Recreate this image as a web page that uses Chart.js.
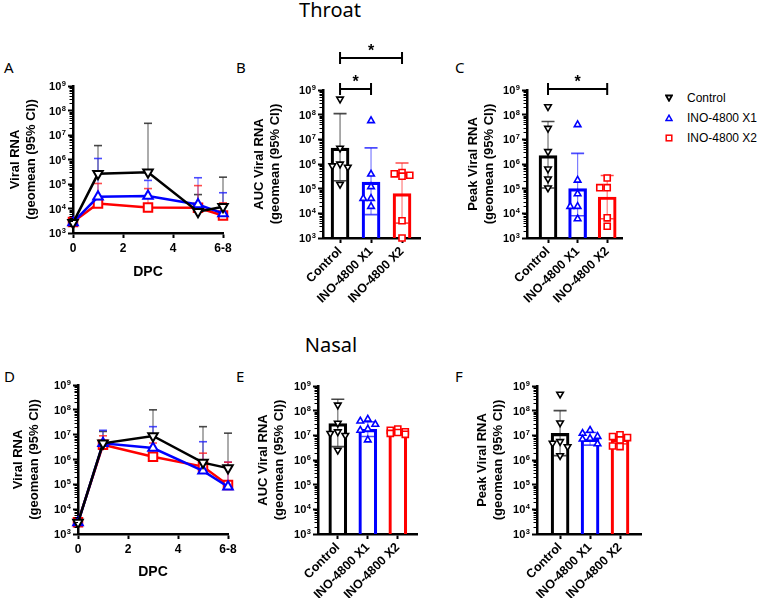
<!DOCTYPE html>
<html>
<head>
<meta charset="utf-8">
<script src="https://cdn.jsdelivr.net/npm/chart.js@4.4.1/dist/chart.umd.min.js"></script>
<style>
body { margin: 0; width: 758px; height: 598px; background: #fff; position: relative; overflow: hidden; font-family: "Noto Sans", sans-serif; color: #000; }
canvas, .t { position: absolute; }
.head { font-size: 20px; line-height: 24px; width: 120px; text-align: center; }
.letter { font-size: 15px; line-height: 18px; }
.leg { font-family: "Liberation Sans", Arial, sans-serif; font-size: 12px; line-height: 14px; }
.mk { position: absolute; }
</style>
</head>
<body>
<div class="t head" style="left:270px;top:-2px">Throat</div>
<div class="t head" style="left:271px;top:333px">Nasal</div>
<div class="t letter" style="left:4px;top:58px">A</div>
<div class="t letter" style="left:236px;top:58px">B</div>
<div class="t letter" style="left:455px;top:58px">C</div>
<div class="t letter" style="left:4px;top:367px">D</div>
<div class="t letter" style="left:236px;top:367px">E</div>
<div class="t letter" style="left:455px;top:367px">F</div>

<svg class="mk" style="left:665px;top:94px" width="8" height="8"><polygon points="1,1.5 7,1.5 4,6.8" fill="#fff" stroke="#000" stroke-width="1.8"/></svg>
<div class="t leg" style="left:687px;top:91px">Control</div>
<svg class="mk" style="left:665px;top:114px" width="8" height="8"><polygon points="1,6.5 7,6.5 4,1.2" fill="#fff" stroke="#0000ff" stroke-width="1.5"/></svg>
<div class="t leg" style="left:687px;top:111px">INO-4800 X1</div>
<svg class="mk" style="left:665px;top:134px" width="8" height="8"><rect x="1.2" y="1.2" width="5.6" height="5.6" fill="#fff" stroke="#ff0000" stroke-width="1.5"/></svg>
<div class="t leg" style="left:687px;top:131px">INO-4800 X2</div>

<script>
// axis ticks
const EXPONENTS = [3, 4, 5, 6, 7, 8, 9];
const DPC = [0, 1, 3, 5, 6];
const DPC_TICKS = [0, 2, 4, 6];
const DPC_LABELS = ['0', '2', '4', '6-8'];
const GROUPS = ['Control', 'INO-4800 X1', 'INO-4800 X2'];

// A - throat kinetics (geomean, upper 95% CI)
const throatControl = [2.6e3, 2.6e5, 3.0e5, 7.4e3, 1.17e4];
const throatControlUpper = [null, 3.7e6, 3.0e7, 3.7e4, 1.9e5];
const throatX1 = [2.7e3, 3.0e4, 3.2e4, 1.45e4, 6.3e3];
const throatX1Upper = [null, 1.1e6, 1.4e5, 1.8e5, 4.4e4];
const throatX2 = [2.8e3, 1.6e4, 1.1e4, 1.07e4, 5.2e3];
const throatX2Upper = [null, 1.05e5, 6.5e4, 8.6e4, 1.7e4];

// D - nasal kinetics
const nasalControl = [2.9e3, 4.5e6, 8.9e6, 7.5e5, 4.5e5];
const nasalControlUpper = [null, 1.35e7, 1.0e8, 2.1e7, 1.15e7];
const nasalX1 = [2.9e3, 4.5e6, 2.9e6, 3.5e5, 8.0e4];
const nasalX1Upper = [null, 1.5e7, 2.1e7, 5.2e6, 7.8e5];
const nasalX2 = [3.0e3, 3.9e6, 1.3e6, 5.2e5, 9.5e4];
const nasalX2Upper = [null, 9.0e6, 4.6e6, 1.8e6, 7.8e5];

// B - throat AUC
const throatAucMean = [4.4e6, 1.85e5, 6.3e4];
const throatAucLower = [2.1e5, 8.9e3, 4.0e3];
const throatAucUpper = [1.1e8, 4.5e6, 1.1e6];
const throatAucControl = [4.3e8, 4.4e6, 1.0e6, 8.5e5, 7.5e5, 1.5e5];
const throatAucX1 = [5.7e7, 3.9e5, 1.2e5, 4.0e4, 4.0e4, 1.9e4];
const throatAucX2 = [4.5e5, 4.0e5, 3.5e5, 3.2e5, 5.0e3, 1.0e3];

// C - throat peak
const throatPeakMean = [2.2e6, 1.0e5, 4.6e4];
const throatPeakLower = [1.07e5, 8.0e3, 6.0e3];
const throatPeakUpper = [5.3e7, 2.7e6, 3.4e5];
const throatPeakControl = [2.1e8, 2.8e7, 3.2e6, 6.3e5, 2.5e5, 1.07e5];
const throatPeakX1 = [3.9e7, 2.2e5, 6.2e4, 1.9e4, 1.9e4, 6.0e3];
const throatPeakX2 = [2.7e5, 1.1e5, 1.1e5, 6.6e3, 3.0e3];

// E - nasal AUC
const nasalAucMean = [3.0e7, 1.75e7, 1.3e7];
const nasalAucLower = [3.5e6, 9.0e6, 1.05e7];
const nasalAucUpper = [2.9e8, 3.5e7, 1.7e7];
const nasalAucControl = [1.7e8, 3.1e7, 1.4e7, 1.2e7, 1.0e7, 2.5e6];
const nasalAucX1 = [4.5e7, 3.8e7, 2.8e7, 1.8e7, 1.6e7, 6.5e6];
const nasalAucX2 = [1.8e7, 1.6e7, 1.4e7, 1.3e7, 1.2e7, 1.1e7];

// F - nasal peak
const nasalPeakMean = [1.2e7, 7.0e6, 7.0e6];
const nasalPeakLower = [1.5e6, 4.0e6, 4.5e6];
const nasalPeakUpper = [1.0e8, 1.3e7, 1.0e7];
const nasalPeakControl = [4.7e8, 3.2e7, 5.6e6, 4.8e6, 3.5e6, 1.5e6];
const nasalPeakX1 = [1.6e7, 1.2e7, 9.0e6, 7.5e6, 7.0e6, 4.5e6];
const nasalPeakX2 = [1.05e7, 8.9e6, 8.1e6, 6.5e6, 3.7e6, 3.5e6];

const FONT = "'Liberation Sans', Arial, sans-serif";
const COLORS = ['#000000', '#0000ff', '#ff0000'];
const ERR_LINE = ['rgba(70,70,70,0.75)', 'rgba(40,40,255,0.6)', 'rgba(255,40,40,0.6)'];
const ERR_CAP = ['rgba(40,40,40,0.85)', 'rgba(30,30,255,0.8)', 'rgba(255,30,30,0.8)'];
const STYLES = [['triangle', 180], ['triangle', 0], ['rect', 0]];

const extras = {
    id: 'extras',
    beforeDatasetsDraw(chart, args, o) {
        const {ctx, scales: {x, y}} = chart;
        ctx.save();
        (o.bars || []).forEach(b => {
            const px = x.getPixelForValue(b.x);
            const lo = y.getPixelForValue(b.lo);
            const hi = y.getPixelForValue(b.hi);
            ctx.strokeStyle = b.line;
            ctx.lineWidth = 1.2;
            ctx.beginPath(); ctx.moveTo(px, lo); ctx.lineTo(px, hi); ctx.stroke();
            ctx.strokeStyle = b.cap;
            ctx.lineWidth = 1.6;
            ctx.beginPath();
            ctx.moveTo(px - b.capW / 2, hi); ctx.lineTo(px + b.capW / 2, hi);
            if (b.both) { ctx.moveTo(px - b.capW / 2, lo); ctx.lineTo(px + b.capW / 2, lo); }
            ctx.stroke();
        });
        ctx.restore();
    },
    afterDraw(chart, args, o) {
        const {ctx, chartArea: a, scales: {x, y}} = chart;
        ctx.save();
        // minor log ticks
        ctx.strokeStyle = '#000';
        ctx.lineWidth = 1;
        ctx.beginPath();
        for (let e = 3; e < 9; e++) {
            for (let m = 2; m < 10; m++) {
                const py = Math.round(y.getPixelForValue(m * Math.pow(10, e))) + 0.5;
                ctx.moveTo(a.left - 3.5, py); ctx.lineTo(a.left, py);
            }
        }
        ctx.stroke();
        // power-of-ten labels with a raised exponent
        ctx.fillStyle = '#000';
        ctx.textAlign = 'right';
        ctx.textBaseline = 'alphabetic';
        EXPONENTS.forEach(e => {
            const py = y.getPixelForValue(Math.pow(10, e));
            const right = a.left - 7;
            ctx.font = 'bold 7.5px ' + FONT;
            const ew = ctx.measureText(String(e)).width;
            ctx.fillText(String(e), right, py);
            ctx.font = 'bold 11px ' + FONT;
            ctx.fillText('10', right - ew - 0.5, py + 4);
        });
        (o.brackets || []).forEach(b => {
            const x0 = x.getPixelForValue(b.from), x1 = x.getPixelForValue(b.to);
            const py = a.top - b.rise;
            ctx.strokeStyle = '#000';
            ctx.lineWidth = 2;
            ctx.beginPath();
            ctx.moveTo(x0, py); ctx.lineTo(x1, py);
            ctx.moveTo(x0, py - 6); ctx.lineTo(x0, py + 6);
            ctx.moveTo(x1, py - 6); ctx.lineTo(x1, py + 6);
            ctx.stroke();
            ctx.font = 'bold 16px ' + FONT;
            ctx.textAlign = 'center';
            ctx.fillText(b.label, (x0 + x1) / 2, py - 2);
        });
        ctx.restore();
    }
};

function yAxis(title, w) {
    return {
        type: 'logarithmic', min: 1e3, max: 1e9,
        afterBuildTicks: s => { s.ticks = EXPONENTS.map(e => ({value: Math.pow(10, e)})); },
        afterFit: s => { s.width = w; },
        ticks: {display: false, autoSkip: false},
        grid: {drawOnChartArea: false, tickLength: 5, tickWidth: 2, tickColor: '#000'},
        border: {color: '#000', width: 2.5},
        title: {
            display: true, text: title, color: '#000', padding: {top: 4, bottom: 0},
            font: {family: FONT, size: 13, weight: 'bold', lineHeight: 1.25}
        }
    };
}

function xBase(h) {
    return {
        type: 'linear', offset: false,
        afterFit: s => { s.height = h; },
        grid: {drawOnChartArea: false, offset: false, tickLength: 5, tickWidth: 2, tickColor: '#000'},
        border: {color: '#000', width: 2.5}
    };
}

function makeCanvas(box) {
    const c = document.createElement('canvas');
    c.width = box.width; c.height = box.height;
    c.style.left = box.left + 'px'; c.style.top = box.top + 'px';
    document.body.appendChild(c);
    return c;
}

function layout(box, area) {
    return {
        padding: {left: 0, top: area.t - box.top, right: box.left + box.width - area.r, bottom: 0}
    };
}

function kinetics(box, area, series, uppers) {
    const canvas = makeCanvas(box);
    const datasets = series.map((vals, k) => ({
        label: GROUPS[k],
        data: DPC.map((d, i) => ({x: d, y: vals[i]})),
        borderColor: COLORS[k], borderWidth: 2.5, tension: 0,
        pointStyle: STYLES[k][0], rotation: STYLES[k][1],
        pointRadius: k === 2 ? 6 : 5.5, pointBorderWidth: 2,
        pointBackgroundColor: '#fff', pointBorderColor: COLORS[k], clip: false
    }));
    const bars = [];
    uppers.forEach((up, k) => up.forEach((u, i) => {
        if (u !== null) bars.push({x: DPC[i], lo: series[k][i], hi: u, line: ERR_LINE[k], cap: ERR_CAP[k], capW: 8});
    }));
    const x = Object.assign(xBase(box.top + box.height - area.b), {
        min: 0, max: 6,
        afterBuildTicks: s => { s.ticks = DPC_TICKS.map(v => ({value: v})); },
        ticks: {autoSkip: false, color: '#000', padding: 3, maxRotation: 0,
            font: {family: FONT, size: 12, weight: 'bold'},
            callback: (v, i) => DPC_LABELS[i]},
        title: {display: true, text: 'DPC', color: '#000', padding: {top: 6},
            font: {family: FONT, size: 14, weight: 'bold'}}
    });
    return new Chart(canvas, {
        type: 'line',
        data: {datasets},
        plugins: [extras],
        options: {
            responsive: false, animation: false, devicePixelRatio: 1,
            layout: layout(box, area),
            scales: {x, y: yAxis(['Viral RNA', '(geomean (95% CI))'], area.l - box.left)},
            plugins: {legend: {display: false}, tooltip: {enabled: false}, extras: {bars}}
        }
    });
}

// spread points with similar values sideways
function swarm(values, center) {
    const placed = [];
    const out = new Array(values.length);
    const order = values.map((v, i) => i).sort((a, b) => values[b] - values[a]);
    order.forEach(i => {
        const ly = Math.log10(values[i]);
        let best = 0, bestGap = -1;
        for (const dx of [0, -0.25, 0.25]) {
            const near = placed.filter(p => Math.abs(p.dx - dx) < 0.1).map(p => Math.abs(p.ly - ly));
            const gap = near.length ? Math.min(...near) : Infinity;
            if (gap >= 0.25) { best = dx; break; }
            if (gap > bestGap) { bestGap = gap; best = dx; }
        }
        placed.push({dx: best, ly});
        out[i] = {x: center + best, y: values[i]};
    });
    return out;
}

function summary(box, area, range, title, mean, lower, upper, points, brackets) {
    const canvas = makeCanvas(box);
    const datasets = points.map((vals, k) => ({
        type: 'scatter', label: GROUPS[k],
        data: swarm(vals, k),
        pointStyle: STYLES[k][0], rotation: STYLES[k][1],
        pointRadius: k === 2 ? 4.3 : 3.8, pointBorderWidth: 1.6,
        pointBackgroundColor: '#fff', pointBorderColor: COLORS[k], clip: false
    }));
    datasets.push({
        type: 'bar', label: 'geomean',
        data: mean.map((m, k) => ({x: k, y: m})),
        backgroundColor: 'rgba(255,255,255,0)', borderColor: COLORS,
        borderWidth: 2.5, barThickness: 18
    });
    const bars = mean.map((m, k) => ({x: k, lo: lower[k], hi: upper[k], line: ERR_LINE[k], cap: ERR_CAP[k], capW: 13, both: true}));
    const x = Object.assign(xBase(box.top + box.height - area.b), {
        min: range[0], max: range[1],
        afterBuildTicks: s => { s.ticks = GROUPS.map((g, k) => ({value: k})); },
        ticks: {autoSkip: false, color: '#000', padding: 1, minRotation: 45, maxRotation: 45,
            font: {family: FONT, size: 12.5, weight: 'bold'},
            callback: v => GROUPS[v]}
    });
    return new Chart(canvas, {
        type: 'bar',
        data: {datasets},
        plugins: [extras],
        options: {
            responsive: false, animation: false, devicePixelRatio: 1,
            layout: layout(box, area),
            scales: {x, y: yAxis(title, area.l - box.left)},
            plugins: {legend: {display: false}, tooltip: {enabled: false}, extras: {bars, brackets}}
        }
    });
}

kinetics({left: 3, top: 60, width: 245, height: 225}, {l: 73, t: 86, r: 223, b: 233},
    [throatControl, throatX1, throatX2], [throatControlUpper, throatX1Upper, throatX2Upper]);
kinetics({left: 6, top: 360, width: 244, height: 225}, {l: 78, t: 385, r: 228, b: 534},
    [nasalControl, nasalX1, nasalX2], [nasalControlUpper, nasalX1Upper, nasalX2Upper]);

summary({left: 247, top: 30, width: 188, height: 320}, {l: 323, t: 90, r: 420, b: 238}, [-0.55, 2.58],
    ['AUC Viral RNA', '(geomean (95% CI))'], throatAucMean, throatAucLower, throatAucUpper,
    [throatAucControl, throatAucX1, throatAucX2],
    [{from: 0, to: 1, rise: 1, label: '*'}, {from: 0, to: 2, rise: 32, label: '*'}]);
summary({left: 461, top: 30, width: 172, height: 320}, {l: 527, t: 90, r: 622, b: 238}, [-0.71, 2.5],
    ['Peak Viral RNA', '(geomean (95% CI))'], throatPeakMean, throatPeakLower, throatPeakUpper,
    [throatPeakControl, throatPeakX1, throatPeakX2],
    [{from: 0, to: 2, rise: 1, label: '*'}]);
summary({left: 251, top: 360, width: 184, height: 238}, {l: 318, t: 386, r: 417, b: 534}, [-0.66, 2.64],
    ['AUC Viral RNA', '(geomean (95% CI))'], nasalAucMean, nasalAucLower, nasalAucUpper,
    [nasalAucControl, nasalAucX1, nasalAucX2], []);
summary({left: 470, top: 360, width: 180, height: 238}, {l: 537, t: 386, r: 641, b: 534}, [-0.77, 2.7],
    ['Peak Viral RNA', '(geomean (95% CI))'], nasalPeakMean, nasalPeakLower, nasalPeakUpper,
    [nasalPeakControl, nasalPeakX1, nasalPeakX2], []);
</script>
</body>
</html>
